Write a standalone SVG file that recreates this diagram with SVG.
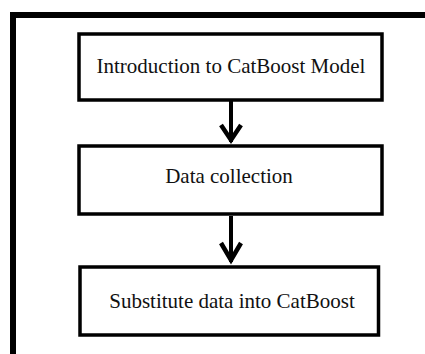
<svg xmlns="http://www.w3.org/2000/svg" width="425" height="354" viewBox="0 0 425 354">
  <style>
    .frame { fill: none; stroke: #000; stroke-width: 6; }
    .box { fill: #fff; stroke: #000; stroke-width: 3.5; }
    .label { font-family: "Liberation Serif", "Times New Roman", serif; font-size: 21px; fill: #111; text-anchor: middle; }
    .shaft { stroke: #000; stroke-width: 4; fill: none; }
    .head { stroke: #000; stroke-width: 4.5; fill: none; stroke-linejoin: miter; }
  </style>
  <rect width="425" height="354" fill="#fff"/>
  <!-- outer frame, cut off at right and bottom -->
  <path class="frame" d="M13,360 V15 H430"/>

  <g id="connectors">
    <line class="shaft" x1="231" y1="101" x2="231" y2="142"/>
    <polyline class="head" points="221,125 231,140 241,125"/>
    <line class="shaft" x1="231" y1="216" x2="231" y2="262"/>
    <polyline class="head" points="221,243 231,260 241,243"/>
  </g>

  <g id="intro">
    <rect class="box" x="79" y="34" width="303" height="66"/>
    <text class="label" x="231" y="73">Introduction to CatBoost Model</text>
  </g>
  <g id="collection">
    <rect class="box" x="79" y="146" width="303" height="68"/>
    <text class="label" x="229" y="183">Data collection</text>
  </g>
  <g id="substitute">
    <rect class="box" x="80" y="267" width="298.5" height="68"/>
    <text class="label" x="232" y="308">Substitute data into CatBoost</text>
  </g>
</svg>
